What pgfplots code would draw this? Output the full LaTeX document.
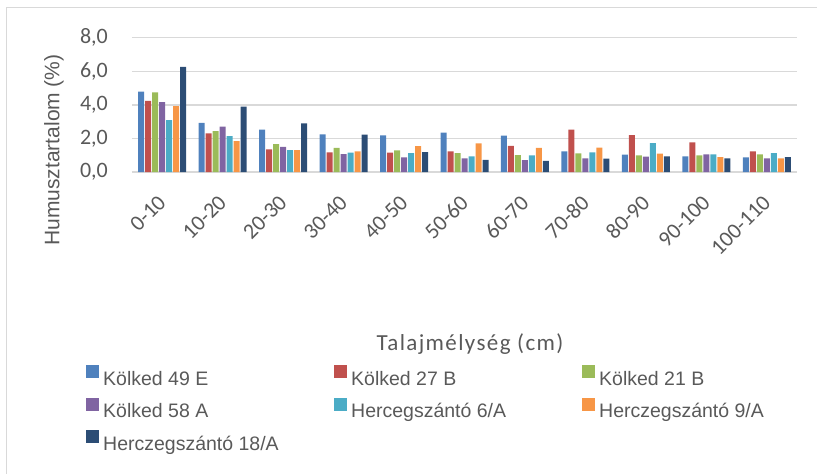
\documentclass[border=0pt]{standalone}
\usepackage{fontspec}
\setmainfont{Carlito}
\newfontfamily\arialf{Liberation Sans}
\newfontfamily\xlabf[LetterSpace=6]{Carlito}
\usepackage{pgfplots}
\pgfplotsset{compat=1.18}
\definecolor{c1}{HTML}{4F81BD}
\definecolor{c2}{HTML}{C0504D}
\definecolor{c3}{HTML}{9BBB59}
\definecolor{c4}{HTML}{8064A2}
\definecolor{c5}{HTML}{4BACC6}
\definecolor{c6}{HTML}{F79646}
\definecolor{c7}{HTML}{2C4D75}
\definecolor{txt}{HTML}{595959}
\definecolor{gridc}{HTML}{D9D9D9}
\begin{document}
\begin{tikzpicture}
\path[use as bounding box] (-132pt,-302pt) rectangle (685pt,172pt);
\draw[gridc, line width=1pt] (-125pt,-310pt) -- (-125pt,164pt) -- (690pt,164pt);
\begin{axis}[
  at={(0pt,0pt)}, anchor=south west,
  scale only axis, width=665pt, height=134.3pt,
  xmin=-0.5, xmax=10.5, ymin=0, ymax=8,
  enlargelimits=false, clip=false,
  ytick={0,2,4,6,8},
  yticklabels={{0,0},{2,0},{4,0},{6,0},{8,0}},
  xtick={0,1,2,3,4,5,6,7,8,9,10},
  xticklabels={0-10,10-20,20-30,30-40,40-50,50-60,60-70,70-80,80-90,90-100,100-110},
  ymajorgrids, grid style={gridc, line width=1.3pt},
  axis x line*=bottom, axis y line*=left,
  y axis line style={draw=none},
  x axis line style={draw=gridc, line width=2pt, -},
  major tick length=0pt,
  tick label style={font=\fontsize{22}{22}\selectfont, text=txt, inner sep=0pt},
  yticklabel shift=24pt,
  xticklabel style={rotate=45, anchor=east},
  xticklabel shift=27pt,
  ybar=1pt, bar width=6pt,
  legend columns=3,
  legend image code/.code={\fill[#1] (0pt,2pt) rectangle (13pt,15pt); \path (17pt,0pt);},
  legend style={at={(-0.0692,-1.437)}, anchor=north west, draw=none, fill=none,
    inner sep=0pt, font=\arialf\fontsize{19.5}{19.5}\selectfont, text=txt,
    nodes={inner sep=0pt, text height=14pt, text depth=4pt},
    row sep=8.5pt,
    /tikz/every even column/.append style={column sep=0pt}},
  legend cell align=left,
]
\addplot[fill=c1, draw=none] coordinates {(0,4.79) (1,2.93) (2,2.53) (3,2.24) (4,2.18) (5,2.34) (6,2.16) (7,1.23) (8,1.03) (9,0.93) (10,0.87)};
\addplot[fill=c2, draw=none] coordinates {(0,4.24) (1,2.30) (2,1.35) (3,1.17) (4,1.15) (5,1.23) (6,1.56) (7,2.53) (8,2.20) (9,1.76) (10,1.23)};
\addplot[fill=c3, draw=none] coordinates {(0,4.75) (1,2.44) (2,1.66) (3,1.43) (4,1.29) (5,1.13) (6,1.01) (7,1.11) (8,0.99) (9,0.99) (10,1.05)};
\addplot[fill=c4, draw=none] coordinates {(0,4.16) (1,2.71) (2,1.49) (3,1.07) (4,0.87) (5,0.81) (6,0.71) (7,0.81) (8,0.91) (9,1.05) (10,0.81)};
\addplot[fill=c5, draw=none] coordinates {(0,3.09) (1,2.14) (2,1.31) (3,1.15) (4,1.13) (5,0.93) (6,0.99) (7,1.17) (8,1.72) (9,1.05) (10,1.13)};
\addplot[fill=c6, draw=none] coordinates {(0,3.92) (1,1.84) (2,1.31) (3,1.23) (4,1.54) (5,1.70) (6,1.43) (7,1.45) (8,1.09) (9,0.89) (10,0.81)};
\addplot[fill=c7, draw=none] coordinates {(0,6.26) (1,3.90) (2,2.89) (3,2.22) (4,1.19) (5,0.73) (6,0.67) (7,0.79) (8,0.93) (9,0.81) (10,0.89)};
\addlegendentry{\makebox[231pt][l]{Kölked 49 E}}
\addlegendentry{\makebox[231pt][l]{Kölked 27 B}}
\addlegendentry{\makebox[231pt][l]{Kölked 21 B}}
\addlegendentry{\makebox[231pt][l]{Kölked 58 A}}
\addlegendentry{\makebox[231pt][l]{Hercegszántó 6/A}}
\addlegendentry{\makebox[231pt][l]{Herczegszántó 9/A}}
\addlegendentry{\makebox[231pt][l]{Herczegszántó 18/A}}
\end{axis}
\node[rotate=90, font=\arialf\fontsize{21}{21}\selectfont, text=txt] at (-78pt,22pt) {Humusztartalom (\%)};
\node[font=\xlabf\fontsize{23}{23}\selectfont, text=txt] at (338pt,-172pt) {Talajmélység (cm)};
\end{tikzpicture}
\end{document}
